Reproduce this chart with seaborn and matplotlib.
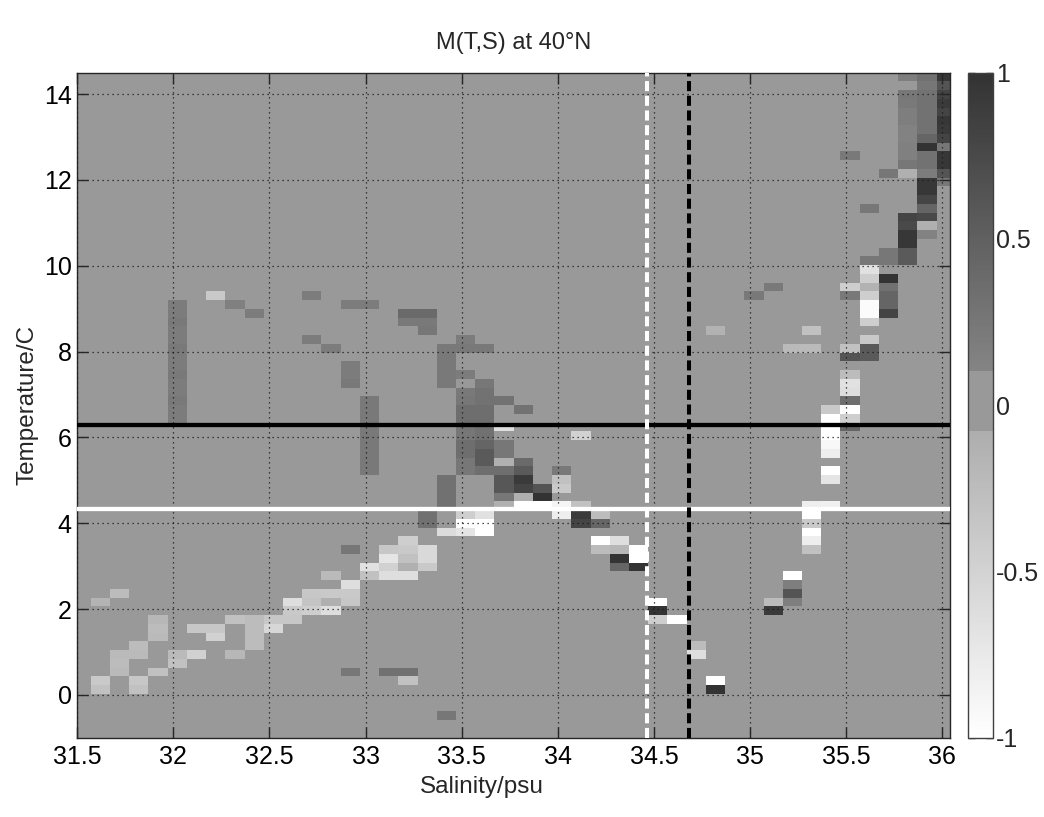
import numpy as np
import pandas as pd
import matplotlib
matplotlib.use("Agg")
import matplotlib.pyplot as plt
from matplotlib.colors import ListedColormap
import seaborn as sns

# grid of the field: salinity columns (psu) and temperature rows (deg C)
sal_left = 31.57          # left edge of first salinity column
sal_step = 0.1
n_sal = 45
temp_lo, temp_hi, n_temp = -1.0, 14.5, 76

# non-zero cells, stored as vertical runs:
# salinity of the column, temperature of the top cell, M values going down
run_sal = [
    31.6, 31.6, 31.7, 31.7, 31.8, 31.8, 31.9, 31.9,
    32.0, 32.0, 32.1, 32.1, 32.2, 32.2, 32.3, 32.3, 32.3,
    32.4, 32.4, 32.5, 32.6, 32.7, 32.7, 32.7,
    32.8, 32.8, 32.8, 32.9, 32.9, 32.9, 32.9, 32.9,
    33.0, 33.0, 33.0, 33.1, 33.1, 33.2, 33.2, 33.2,
    33.3, 33.3, 33.3, 33.4, 33.4, 33.4, 33.4,
    33.5, 33.5, 33.5, 33.5, 33.6, 33.6, 33.6,
    33.7, 33.7, 33.7, 33.8, 33.8, 33.9, 34.0, 34.0,
    34.1, 34.1, 34.2, 34.2, 34.3, 34.4, 34.5, 34.6, 34.7,
    34.8, 34.8, 35.0, 35.1, 35.1, 35.2, 35.2,
    35.3, 35.3, 35.3, 35.4, 35.4, 35.4,
    35.5, 35.5, 35.5, 35.5, 35.6, 35.6, 35.6,
    35.7, 35.7, 35.7, 35.8, 35.8, 35.8, 35.9, 36.0,
]
run_top = [
    2.16, 0.33, 2.37, 0.94, 1.14, 0.33, 1.75, 0.53,
    9.10, 0.94, 1.55, 0.94, 9.30, 1.55, 9.10, 1.75, 0.94,
    8.89, 1.75, 1.75, 2.16, 9.30, 8.28, 2.37,
    8.08, 2.77, 2.37, 9.10, 7.67, 3.38, 2.57, 0.53,
    9.10, 6.85, 2.98, 3.38, 0.53, 8.89, 3.59, 0.53,
    8.89, 4.20, 3.38, 8.08, 5.02, 3.79, -0.49,
    8.28, 7.46, 7.06, 4.20, 8.08, 7.26, 4.20,
    6.85, 6.24, 5.83, 6.65, 5.42, 4.81, 5.22, 4.40,
    6.04, 4.40, 4.20, 3.59, 3.59, 3.38, 2.16, 1.75, 1.14,
    8.48, 0.33, 9.30, 9.50, 2.16, 8.08, 2.77,
    8.48, 8.08, 4.40, 6.65, 5.22, 4.40,
    12.56, 9.50, 8.08, 7.46, 11.34, 10.11, 8.28,
    12.15, 10.32, 9.71, 14.40, 13.99, 11.13, 14.40, 14.40,
]
run_vals = [
    [-0.15], [-0.39, -0.3], [-0.25], [-0.22, -0.25, -0.22],
    [-0.25, -0.22], [-0.36, -0.3], [-0.18, -0.25, -0.22], [-0.3],
    [0.2, 0.2, 0.22, 0.2, 0.2, 0.22, 0.2, 0.2, 0.22, 0.2, 0.2, 0.22, 0.2, 0.2],
    [-0.22, -0.3], [-0.36], [-0.48],
    [-0.39], [-0.36, -0.48], [0.15], [-0.3], [-0.18],
    [0.2], [-0.25, -0.25, -0.25, -0.25], [-0.36, -0.54],
    [-0.63, -0.39, -0.36], [0.2], [0.2], [-0.36, -0.33, -0.44],
    [0.2], [-0.22], [-0.39, -0.11, -0.63],
    [0.2], [0.2, 0.2, 0.22], [0.25], [-0.63, -0.39, -0.36], [0.25],
    [0.2], [0.22, 0.22, 0.22, 0.22, 0.22, 0.22, 0.22, 0.22, 0.22], [-0.66, -0.3],
    [-0.36, -0.71, -0.48, -0.63], [0.32],
    [0.39, 0.22], [-0.44, -0.39, -0.3, -0.11, -0.63], [0.32, -0.3],
    [0.39, 0.22, 0.25], [0.32, 0.32], [-0.57, -0.57, -0.39],
    [0.22, 0.22, 0.22, 0.22, 0.22], [0.32, 0.32, 0.32, 0.32], [-0.6], [0.25],
    [0.2, 0.22], [0.2],
    [0.22, 0.25, 0.35, 0.35, 0.25, 0.25, 0.35, 0.35, 0.25, 0.25],
    [-0.44, -1.0, -0.71],
    [0.22],
    [0.25, 0.3, 0.3, 0.35, 0.35, 0.32, 0.32, 0.44, 0.57, 0.57, 0.35],
    [-0.66, -1.0, -1.0],
    [0.3], [-0.63], [0.25, 0.25, -0.11, 0.35, 0.6, 0.6, 0.25, -0.11],
    [0.3], [0.39, 0.57, 0.92, 0.81, -0.11, -1.0],
    [0.63, 1.0, -1.0],
    [0.22, -0.3, -0.39], [-0.88, -0.81],
    [-0.48], [-0.3, 0.92, 0.81],
    [-0.25, 0.44], [-1.0, -0.25],
    [-0.63, -0.18, 1.0, 0.44],
    [-1.0, -1.0, 1.0],
    [-1.0, 1.0, -0.44],
    [-1.0],
    [-0.25, -0.63],
    [-0.13], [-1.0, 1.0],
    [0.22],
    [0.22], [-0.25, 0.92],
    [-0.22], [-1.0, 0.17, 0.63, 0.17],
    [-0.3], [-0.22], [-0.81, -1.0, -0.39, -1.0, -0.81, -0.3],
    [-0.39, -1.0, -1.0, -1.0, -0.92, -0.81], [-1.0, -0.71], [-0.83],
    [0.22], [-0.44, 0.22], [-0.3, 0.63],
    [-0.25, -0.66, -0.63, 0.35, -1.0, -0.44, 0.44],
    [0.25], [0.25, -0.66, -0.44, -0.13, -0.44, -0.95, -0.95, -0.44],
    [-0.39, 0.57, 0.57],
    [0.25], [0.25, 0.25], [1.0, 0.32, 0.44, 0.44, 0.81],
    [0.17],
    [0.25, 0.22, 0.17, 0.17, 0.13, 0.13, 0.15, 0.15, 0.25, -0.11],
    [0.81, 0.75, 0.95, 0.95, 0.57, 0.57],
    [0.32, 0.25, 0.3, 0.3, 0.3, 0.3, 0.3, 0.44, 1.0, 0.3, 0.3, 0.2,
     0.95, 0.95, 0.8, 0.44, 0.75, -0.11, 0.13],
    [0.95, 0.63, 0.81, 0.92, 0.81, 0.95, 0.92, 0.81, 0.25, 0.95, 0.95, 0.63, 0.25],
]

# reference lines
temp_black = 6.28
temp_white = 4.33
sal_white = 34.465
sal_black = 34.68

xtick_vals = [31.5, 32, 32.5, 33, 33.5, 34, 34.5, 35, 35.5, 36]
xtick_text = ["31.5", "32", "32.5", "33", "33.5", "34", "34.5", "35", "35.5", "36"]
ytick_vals = [0, 2, 4, 6, 8, 10, 12, 14]
cbar_ticks = [-1, -0.5, 0, 0.5, 1]
cbar_text = ["-1", "-0.5", "0", "0.5", "1"]


def gray_level(v):
    """Grey shade of the colour scale (white at -1, dark at +1, flat band near 0)."""
    if v <= -0.08:
        return 0.68 + (-0.08 - v) / 0.92 * 0.32
    if v < 0.1:
        return 0.6
    return 0.52 - (v - 0.1) / 0.9 * 0.32


levels = np.linspace(-1, 1, 256)
cmap = ListedColormap([(g, g, g) for g in map(gray_level, levels)])

# build the M(T,S) field
dT = (temp_hi - temp_lo) / n_temp
temp_rows = temp_lo + dT * (np.arange(n_temp) + 0.5)
sal_cols = sal_left + sal_step * (np.arange(n_sal) + 0.5)
field = np.zeros((n_temp, n_sal))
for s, t, vals in zip(run_sal, run_top, run_vals):
    k = int(round((s + 0.02 - sal_cols[0]) / sal_step))
    n = int(round((t - temp_rows[0]) / dT))
    for i, v in enumerate(vals):
        field[n - i, k] = v
df = pd.DataFrame(field, index=np.round(temp_rows, 2), columns=np.round(sal_cols, 2))


def sx(s):
    return (s - sal_left) / sal_step


def ty(t):
    return (t - temp_lo) / dT


sns.set_theme(style="white")
plt.rcParams['font.family'] = ['Liberation Sans', 'DejaVu Sans']
plt.rcParams['axes.unicode_minus'] = False

fig = plt.figure(figsize=(10.44, 8.17), dpi=100)
ax = fig.add_axes([0.074, 0.097, 0.836, 0.814])
cax = fig.add_axes([0.927, 0.097, 0.0245, 0.814])

sns.heatmap(df, ax=ax, cmap=cmap, vmin=-1, vmax=1, cbar_ax=cax,
            xticklabels=False, yticklabels=False, linewidths=0)

ax.set_facecolor((0.6, 0.6, 0.6))
ax.set_xlim(sx(31.5), sx(36.04))
ax.set_ylim(ty(-1.0), ty(14.5))

ax.set_xticks([sx(v) for v in xtick_vals])
ax.set_xticklabels(xtick_text, rotation=0)
ax.set_yticks([ty(v) for v in ytick_vals])
ax.set_yticklabels([str(v) for v in ytick_vals], rotation=0)

ax.grid(True, color='k', linestyle=(0, (1, 3)), linewidth=0.9)
ax.set_axisbelow(False)

for sp in ax.spines.values():
    sp.set_visible(True)
    sp.set_color('#262626')
    sp.set_linewidth(1)
ax.tick_params(direction='in', length=8, width=1, color='#262626',
               top=True, right=True, bottom=True, left=True,
               labelsize=18, labelcolor='black')
ax.tick_params(axis='x', pad=5)
ax.tick_params(axis='y', pad=4)

# reference lines
ax.axhline(ty(temp_black), color='black', lw=3.1, zorder=4)
ax.axhline(ty(temp_white), color='white', lw=3.1, zorder=4)
ax.axvline(sx(sal_white), color='white', lw=2.9, ls=(0, (2.5, 1.15)), zorder=4)
ax.axvline(sx(sal_black), color='black', lw=2.9, ls=(0, (2.5, 1.15)), zorder=4)

ax.set_title("M(T,S) at 40°N", fontsize=17, pad=17)
ax.set_xlabel("Salinity/psu", fontsize=17.5)
ax.set_ylabel("Temperature/C", fontsize=17.5, labelpad=4)
ax.xaxis.set_label_coords(0.463, -0.058)

cbar = ax.collections[0].colorbar
cbar.set_ticks(cbar_ticks)
cbar.set_ticklabels(cbar_text)
cbar.outline.set_linewidth(1)
cbar.outline.set_edgecolor('#404040')
cbar.ax.tick_params(direction='in', left=True, right=True, length=5, width=1,
                    color='#262626', labelsize=18, pad=2)

fig.savefig("out.png", dpi=100)
